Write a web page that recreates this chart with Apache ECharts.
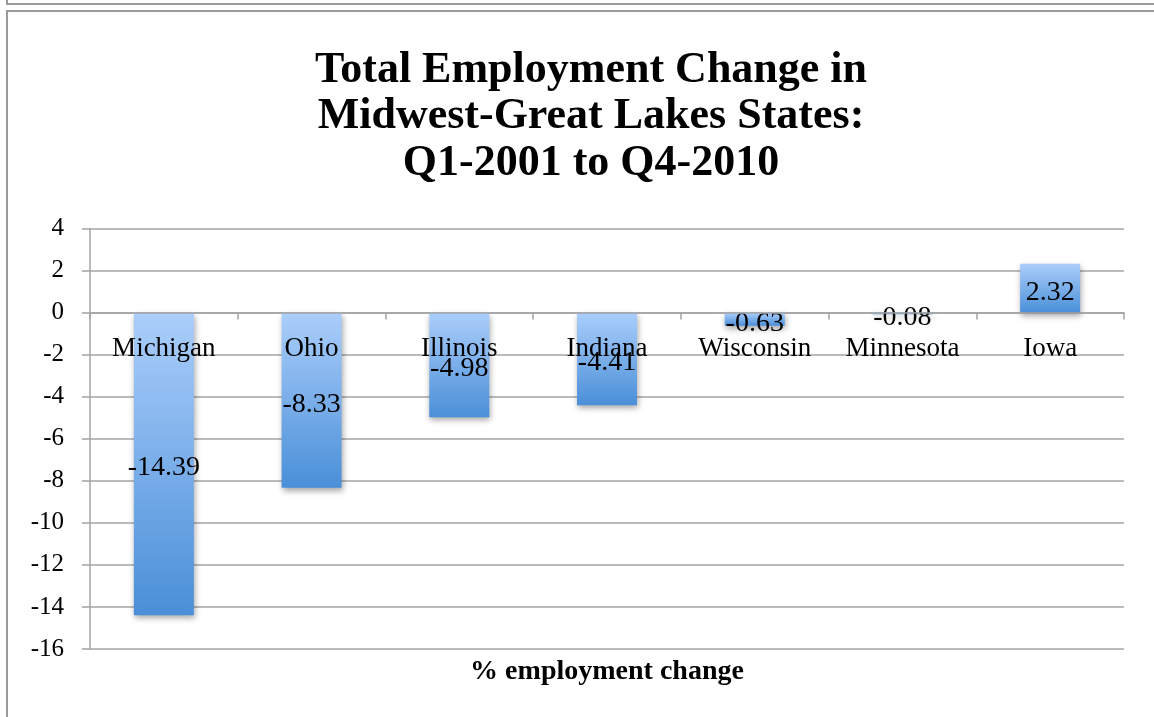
<!DOCTYPE html>
<html>
<head>
<meta charset="utf-8">
<script src="https://cdn.jsdelivr.net/npm/echarts@6/dist/echarts.min.js"></script>
<style>
  html, body { margin: 0; padding: 0; background: #fff; }
  #chart { width: 1154px; height: 717px; }
</style>
</head>
<body>
<div id="chart"></div>
<script>
// states along the x axis
const states = ['Michigan', 'Ohio', 'Illinois', 'Indiana', 'Wisconsin', 'Minnesota', 'Iowa']
// % employment change Q1-2001 -> Q4-2010
const change = [-14.39, -8.33, -4.98, -4.41, -0.63, -0.08, 2.32]
const titleLines = ['Total Employment Change in', 'Midwest-Great Lakes States:', 'Q1-2001 to Q4-2010']
const axisTitle = '% employment change'

const serif = '"Liberation Serif", "DejaVu Serif", serif'
const gridColor = '#a4a4a4'

const gridTop = 228.5
const gridBottom = 68
const yMin = -16
const yMax = 4

const chart = echarts.init(document.getElementById('chart'))

// category axis sits on the zero line, labels just under it
const plotH = 717 - gridTop - gridBottom
const zeroOffset = plotH * (0 - yMin) / (yMax - yMin)

const options = {
  animation: false,
  title: {
    text: titleLines.join('\n'),
    left: 586,
    top: 42,
    textAlign: 'center',
    textStyle: {
      fontFamily: serif,
      fontWeight: 'bold',
      fontSize: 44,
      lineHeight: 46.5,
      color: '#000'
    }
  },
  grid: {
    left: 90,
    right: 30,
    top: gridTop,
    bottom: gridBottom
  },
  xAxis: {
    type: 'category',
    data: states,
    offset: -zeroOffset,
    z: 5,
    axisLine: { onZero: false, lineStyle: { color: gridColor, width: 1.5 } },
    axisTick: { show: true, length: 7, lineStyle: { color: gridColor, width: 1.5 } },
    axisLabel: {
      interval: 0,
      margin: 23,
      fontFamily: serif,
      fontSize: 27,
      color: '#000'
    }
  },
  yAxis: {
    type: 'value',
    min: yMin,
    max: yMax,
    interval: 2,
    axisLine: { show: true, lineStyle: { color: gridColor, width: 1.5 } },
    axisTick: { show: true, length: 8, lineStyle: { color: gridColor, width: 1.5 } },
    splitLine: { lineStyle: { color: gridColor, width: 1.5 } },
    axisLabel: {
      margin: 26,
      fontFamily: serif,
      fontSize: 25,
      color: '#000'
    }
  },
  series: [
    {
      type: 'bar',
      data: change,
      barWidth: 60,
      itemStyle: {
        color: new echarts.graphic.LinearGradient(0, 0, 0, 1, [
          { offset: 0, color: '#abcefb' },
          { offset: 1, color: '#4a8fd8' }
        ]),
        shadowColor: 'rgba(0,0,0,0.35)',
        shadowBlur: 6,
        shadowOffsetX: 1,
        shadowOffsetY: 3
      },
      label: {
        show: true,
        position: 'inside',
        offset: [0, 4],
        fontFamily: serif,
        fontSize: 28,
        color: '#000',
        formatter: p => p.value.toFixed(2)
      }
    }
  ],
  graphic: [
    // frame of the previous chart above, and this chart's frame
    { type: 'rect', shape: { x: 7, y: -50, width: 1200, height: 54 }, style: { fill: 'none', stroke: '#9a9a9a', lineWidth: 2 } },
    { type: 'rect', shape: { x: 7, y: 11, width: 1200, height: 800 }, style: { fill: 'none', stroke: '#9a9a9a', lineWidth: 2 } },
    {
      type: 'text',
      x: 607,
      y: 672,
      style: {
        text: axisTitle,
        font: 'bold 28px ' + serif,
        fill: '#000',
        textAlign: 'center',
        textVerticalAlign: 'middle'
      }
    }
  ]
}

chart.setOption(options)
</script>
</body>
</html>
